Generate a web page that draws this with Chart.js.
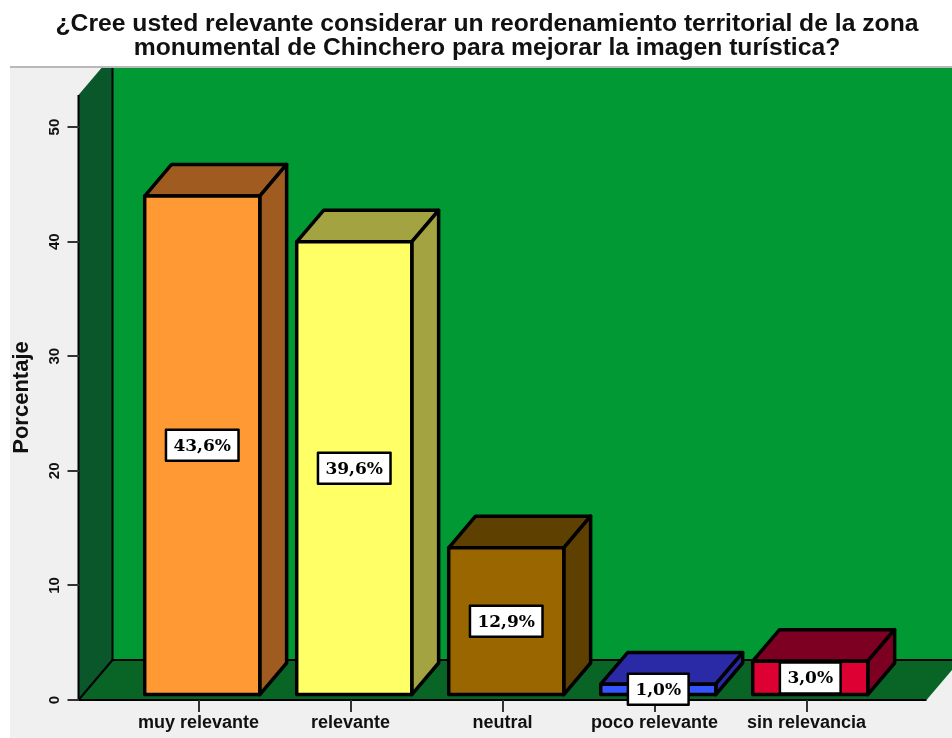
<!DOCTYPE html>
<html>
<head>
<meta charset="utf-8">
<title>Reordenamiento territorial – Chinchero</title>
<script src="https://cdn.jsdelivr.net/npm/chart.js@4.4.1/dist/chart.umd.min.js"></script>
<style>
  html, body { margin: 0; padding: 0; background: #fff; }
  canvas { display: block; }
</style>
</head>
<body>
<canvas id="relevancia" width="952" height="738"></canvas>
<script>
const categories = ['muy relevante', 'relevante', 'neutral', 'poco relevante', 'sin relevancia'];
const percentages = [43.6, 39.6, 12.9, 1.0, 3.0];
const yTicks = [0, 10, 20, 30, 40, 50];

const faceColors = ['#ff9933', '#ffff66', '#996600', '#3355ff', '#dd0033'];
const shadeColors = ['#a05c20', '#a3a342', '#5e4000', '#2a2aa6', '#7d0022'];

// 3d box: depth vector, wall margin around the categories, bar depth range
const DEPTH = { x: 34, y: -40 };
const WALL = 44;
const BAR_NEAR = 0.11;
const BAR_FAR = 0.9;
const FRAME = { left: 10, top: 68 };

const SANS = '"Liberation Sans", Arial, sans-serif';

function shape(ctx, pts, fill, stroke) {
  ctx.beginPath();
  ctx.moveTo(pts[0][0], pts[0][1]);
  for (let i = 1; i < pts.length; i++) ctx.lineTo(pts[i][0], pts[i][1]);
  ctx.closePath();
  if (fill) {
    ctx.fillStyle = fill;
    ctx.fill();
  }
  if (stroke) ctx.stroke();
}

const fmt = v => v.toFixed(1).replace('.', ',') + '%';

const box3d = {
  id: 'box3d',
  afterLayout(chart) {
    // value axis sits against the front edge of the left wall
    const ys = chart.scales.y;
    ys.right = chart.chartArea.left - WALL;
    ys.left = 0;
    ys.width = ys.right;
    // title is centred over the whole frame, not the plot
    const tb = chart.titleBlock;
    tb.left = 2 * FRAME.left + 2;
    tb.right = chart.width;
    tb.width = tb.right - tb.left;
  },
  beforeDraw(chart) {
    const { ctx, chartArea: ca, width, height } = chart;
    const y0 = chart.scales.y.getPixelForValue(0);
    const L = ca.left - WALL, R = ca.right + WALL, T = ca.top;
    const dx = DEPTH.x, dy = DEPTH.y;

    ctx.save();
    ctx.fillStyle = '#fff';
    ctx.fillRect(0, 0, width, height);
    ctx.fillStyle = '#f0f0f0';
    ctx.fillRect(FRAME.left, FRAME.top, width - FRAME.left, height - FRAME.top);
    ctx.fillStyle = '#b9b9b9';
    ctx.fillRect(FRAME.left, FRAME.top - 2, width - FRAME.left, 2);

    ctx.beginPath();
    ctx.rect(FRAME.left, FRAME.top, width - FRAME.left, height - FRAME.top);
    ctx.clip();

    ctx.strokeStyle = '#000';
    ctx.lineJoin = 'round';
    ctx.lineWidth = 2;

    // back wall
    shape(ctx, [[L + dx, T + dy], [R + dx, T + dy], [R + dx, y0 + dy], [L + dx, y0 + dy]], '#009933', false);
    // left wall, outlined on its front and back edges
    shape(ctx, [[L, T], [L + dx, T + dy], [L + dx, y0 + dy], [L, y0]], '#0b572c', false);
    ctx.beginPath();
    ctx.moveTo(L, T);
    ctx.lineTo(L, y0);
    ctx.moveTo(L + dx, T + dy);
    ctx.lineTo(L + dx, y0 + dy);
    ctx.stroke();
    // floor, right edge left open
    shape(ctx, [[L, y0], [L + dx, y0 + dy], [R + dx, y0 + dy], [R, y0]], '#086526', false);
    ctx.beginPath();
    ctx.moveTo(R, y0);
    ctx.lineTo(L, y0);
    ctx.lineTo(L + dx, y0 + dy);
    ctx.lineTo(R + dx, y0 + dy);
    ctx.stroke();
    ctx.restore();
  },
  afterDatasetsDraw(chart) {
    const { ctx } = chart;
    const meta = chart.getDatasetMeta(0);
    const nx = DEPTH.x * BAR_NEAR, ny = DEPTH.y * BAR_NEAR;
    const fx = DEPTH.x * (BAR_FAR - BAR_NEAR), fy = DEPTH.y * (BAR_FAR - BAR_NEAR);

    ctx.save();
    ctx.strokeStyle = '#000';
    ctx.lineJoin = 'round';
    meta.data.forEach((bar, i) => {
      const { x, y, base, width } = bar.getProps(['x', 'y', 'base', 'width'], true);
      const l = x - width / 2 + nx, r = x + width / 2 + nx;
      const t = y + ny, b = base + ny;

      ctx.lineWidth = 3.5;
      shape(ctx, [[l, t], [l + fx, t + fy], [r + fx, t + fy], [r, t]], shadeColors[i], true);
      shape(ctx, [[r, t], [r + fx, t + fy], [r + fx, b + fy], [r, b]], shadeColors[i], true);
      shape(ctx, [[l, t], [r, t], [r, b], [l, b]], faceColors[i], true);

      // value box in the middle of the front face
      const text = fmt(percentages[i]);
      ctx.font = 'bold 17px "DejaVu Serif", serif';
      const tw = ctx.measureText(text).width;
      const bw = tw + 15, bh = 31;
      const cx = (l + r) / 2, cy = (t + b) / 2;
      ctx.lineWidth = 2.5;
      ctx.fillStyle = '#fff';
      ctx.fillRect(cx - bw / 2, cy - bh / 2, bw, bh);
      ctx.strokeRect(cx - bw / 2, cy - bh / 2, bw, bh);
      ctx.fillStyle = '#000';
      ctx.textAlign = 'center';
      ctx.textBaseline = 'middle';
      ctx.fillText(text, cx, cy + 1);
    });
    ctx.restore();
  }
};

new Chart(document.getElementById('relevancia'), {
  type: 'bar',
  data: {
    labels: categories,
    datasets: [{
      data: percentages,
      backgroundColor: 'rgba(0,0,0,0)',
      borderWidth: 0,
      barPercentage: 0.757,
      categoryPercentage: 1
    }]
  },
  options: {
    responsive: false,
    animation: false,
    layout: { padding: { left: 0, right: 69.5, top: 0, bottom: 0 } },
    plugins: {
      legend: { display: false },
      tooltip: { enabled: false },
      title: {
        display: true,
        text: [
          '¿Cree usted relevante considerar un reordenamiento territorial de la zona',
          'monumental de Chinchero para mejorar la imagen turística?'
        ],
        color: '#111',
        font: { family: SANS, size: 24.7, weight: 'bold', lineHeight: 0.98 },
        padding: { top: 12, bottom: 34.6 }
      }
    },
    scales: {
      x: {
        offset: true,
        grid: { offset: false, drawOnChartArea: false, tickLength: 12, color: '#333', lineWidth: 2 },
        border: { display: false },
        ticks: {
          color: '#111',
          font: { family: SANS, size: 18, weight: 'bold' },
          padding: 0,
          maxRotation: 0,
          autoSkip: false
        },
        afterFit(s) { s.height = 38; }
      },
      y: {
        min: 0,
        max: 52.8,
        afterBuildTicks(s) { s.ticks = yTicks.map(v => ({ value: v })); },
        grid: { drawOnChartArea: false, tickLength: 11, color: '#333', lineWidth: 2 },
        border: { display: false },
        ticks: {
          color: '#111',
          font: { family: SANS, size: 15, weight: 'bold' },
          minRotation: 90,
          maxRotation: 90,
          crossAlign: 'center',
          padding: 4
        },
        title: {
          display: true,
          text: 'Porcentaje',
          color: '#111',
          font: { family: SANS, size: 22, weight: 'bold' },
          padding: { top: 9, bottom: 0 }
        },
        afterFit(s) { s.width = 122.5; }
      }
    }
  },
  plugins: [box3d]
});
</script>
</body>
</html>
